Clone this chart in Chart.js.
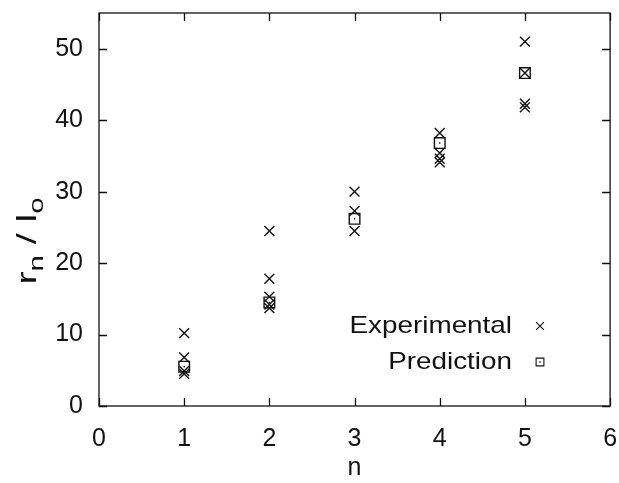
<!DOCTYPE html>
<html>
<head>
<meta charset="utf-8">
<script src="https://cdn.jsdelivr.net/npm/chart.js@4/dist/chart.umd.min.js"></script>
<style>
  html, body { margin: 0; padding: 0; background: #fff; }
  #wrap { width: 619px; height: 483px; }
</style>
</head>
<body>
<div id="wrap"><canvas id="chart" width="619" height="483"></canvas></div>
<script>
// measured normalized radius per shell index
const expN = [1, 1, 1, 1, 2, 2, 2, 2, 2, 3, 3, 3, 4, 4, 4, 4, 5, 5, 5, 5];
const expR = [10.2, 6.8, 4.9, 4.5, 24.5, 17.8, 15.3, 14.2, 13.7, 30.0, 27.3, 24.5, 38.2, 35.4, 34.6, 34.1, 51.0, 46.6, 42.3, 41.8];
// model prediction
const predN = [1, 2, 3, 4, 5];
const predR = [5.5, 14.5, 26.2, 36.8, 46.6];

const xTicks = [0, 1, 2, 3, 4, 5, 6];
const yTicks = [0, 10, 20, 30, 40, 50];

const ink = '#111';
const font = 'Liberation Sans, Arial, Helvetica, sans-serif';

const toPts = (xs, ys) => xs.map((x, i) => ({ x: x, y: ys[i] }));

// box, inward mirrored ticks, y title, legend and the dots inside the squares
const decor = {
  id: 'decor',
  afterDraw(chart) {
    const ctx = chart.ctx;
    const a = chart.chartArea;
    const xs = chart.scales.x, ys = chart.scales.y;
    ctx.save();
    ctx.strokeStyle = ink;
    ctx.lineWidth = 1.3;
    ctx.strokeRect(a.left, a.top, a.right - a.left, a.bottom - a.top);
    const tl = 8;
    ctx.beginPath();
    xTicks.forEach(v => {
      const px = Math.round(xs.getPixelForValue(v)) + 0.5;
      ctx.moveTo(px, a.bottom); ctx.lineTo(px, a.bottom - tl);
      ctx.moveTo(px, a.top); ctx.lineTo(px, a.top + tl);
    });
    yTicks.forEach(v => {
      const py = Math.round(ys.getPixelForValue(v)) + 0.5;
      ctx.moveTo(a.left, py); ctx.lineTo(a.left + tl, py);
      ctx.moveTo(a.right, py); ctx.lineTo(a.right - tl, py);
    });
    ctx.stroke();

    // dot in the prediction squares
    ctx.fillStyle = ink;
    chart.getDatasetMeta(1).data.forEach(p => {
      ctx.fillRect(p.x - 0.7, p.y - 0.7, 1.4, 1.4);
    });

    // y axis title: r_n / l_o
    ctx.translate(28, 241);
    ctx.rotate(-Math.PI / 2);
    ctx.scale(1.4, 1);
    ctx.textBaseline = 'alphabetic';
    ctx.textAlign = 'left';
    const big = '28px ' + font, small = '21px ' + font;
    const parts = [['r', big, 0], ['n', small, 7], [' / ', big, 0], ['l', big, 0], ['o', small, 7]];
    let w = 0;
    parts.forEach(p => { ctx.font = p[1]; w += ctx.measureText(p[0]).width; });
    let cx = -w / 2;
    parts.forEach(p => {
      ctx.font = p[1];
      ctx.fillText(p[0], cx, 8 + p[2]);
      cx += ctx.measureText(p[0]).width;
    });
    ctx.restore();

    // legend
    ctx.save();
    ctx.strokeStyle = ink;
    ctx.lineWidth = 1.1;
    ctx.font = '24px ' + font;
    ctx.textAlign = 'right';
    ctx.textBaseline = 'middle';
    const rows = [['Experimental', 'crossRot', 326], ['Prediction', 'rect', 362]];
    rows.forEach(r => {
      ctx.save();
      ctx.fillStyle = ink;
      ctx.translate(512, r[2]);
      ctx.scale(1.16, 1);
      ctx.fillText(r[0], 0, 0);
      ctx.restore();
      ctx.fillStyle = 'rgba(0,0,0,0)';
      Chart.helpers.drawPoint(ctx, { pointStyle: r[1], radius: 5.5, borderWidth: 1.1 }, 540, r[2]);
      if (r[1] === 'rect') {
        ctx.fillStyle = ink;
        ctx.fillRect(539.3, r[2] - 0.7, 1.4, 1.4);
      }
    });
    ctx.restore();
  }
};

new Chart(document.getElementById('chart'), {
  type: 'scatter',
  data: {
    datasets: [
      {
        label: 'Experimental',
        data: toPts(expN, expR),
        pointStyle: 'crossRot',
        pointRadius: 7,
        borderColor: ink,
        borderWidth: 1.4,
        backgroundColor: ink
      },
      {
        label: 'Prediction',
        data: toPts(predN, predR),
        pointStyle: 'rect',
        pointRadius: 7.5,
        borderColor: ink,
        borderWidth: 1.4,
        backgroundColor: 'rgba(0,0,0,0)'
      }
    ]
  },
  options: {
    responsive: false,
    animation: false,
    layout: { padding: { top: 13, right: 1, left: 0, bottom: 0 } },
    plugins: {
      legend: { display: false },
      tooltip: { enabled: false }
    },
    scales: {
      x: {
        type: 'linear',
        min: 0, max: 6,
        afterFit: s => { s.height = 77; s.paddingLeft = 0; s.paddingRight = 0; },
        afterBuildTicks: s => { s.ticks = xTicks.map(v => ({ value: v })); },
        grid: { display: false, drawTicks: false },
        border: { display: false },
        ticks: { color: ink, font: { family: font, size: 25 }, padding: 18 },
        title: { display: true, text: 'n', color: ink, font: { family: font, size: 25 }, padding: { top: 0, bottom: 0 } }
      },
      y: {
        type: 'linear',
        min: 0, max: 55,
        afterFit: s => { s.width = 99; s.paddingTop = 0; s.paddingBottom = 0; },
        afterBuildTicks: s => { s.ticks = yTicks.map(v => ({ value: v })); },
        grid: { display: false, drawTicks: false },
        border: { display: false },
        ticks: { color: ink, font: { family: font, size: 25 }, padding: 16 }
      }
    }
  },
  plugins: [decor]
});
</script>
</body>
</html>
